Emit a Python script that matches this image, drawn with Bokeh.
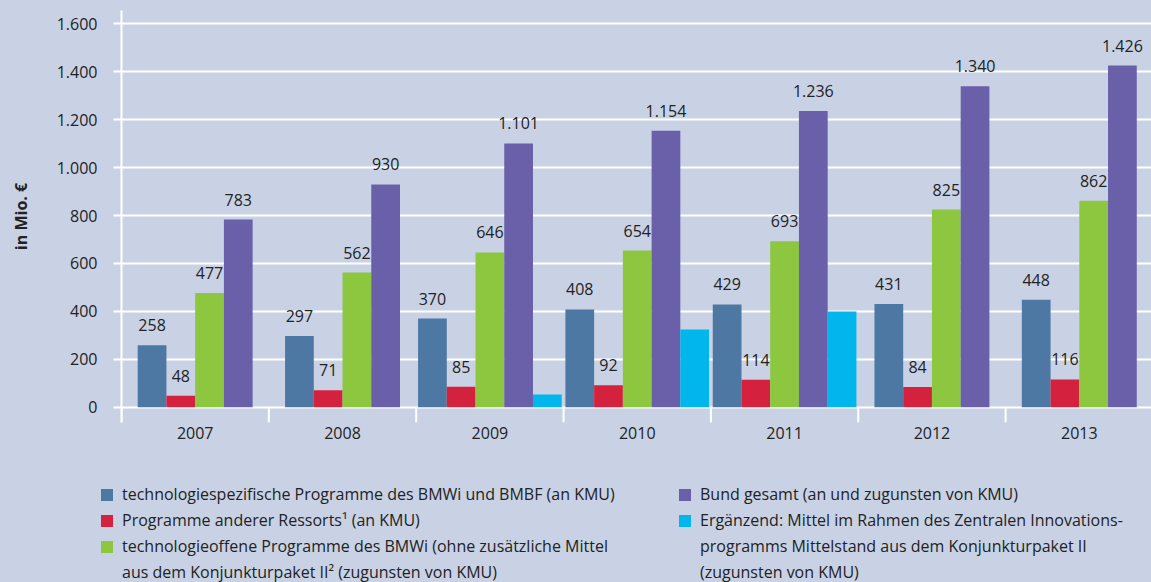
from bokeh.plotting import figure
from bokeh.layouts import column
from bokeh.models import ColumnDataSource, FixedTicker, Legend, LegendItem, Range1d
from bokeh.embed import file_html
from bokeh.resources import INLINE
from bokeh.core.properties import value

# ---------------- data ----------------
years = ["2007", "2008", "2009", "2010", "2011", "2012", "2013"]
tech_spez = [258, 297, 370, 408, 429, 431, 448]
andere_ressorts = [48, 71, 85, 92, 114, 84, 116]
tech_offen = [477, 562, 646, 654, 693, 825, 862]
bund_gesamt = [783, 930, 1101, 1154, 1236, 1340, 1426]
zim_konjunktur = [None, None, 53, 324, 399, None, None]

y_ticks = [0, 200, 400, 600, 800, 1000, 1200, 1400, 1600]
y_tick_labels = ["0", "200", "400", "600", "800", "1.000", "1.200", "1.400", "1.600"]

# legend texts, one list of (wrapped) lines per series
series_names = [
    ["technologiespezifische Programme des BMWi und BMBF (an KMU)"],
    ["Programme anderer Ressorts¹ (an KMU)"],
    ["technologieoffene Programme des BMWi (ohne zusätzliche Mittel",
     "aus dem Konjunkturpaket II² (zugunsten von KMU)"],
    ["Bund gesamt (an und zugunsten von KMU)"],
    ["Ergänzend: Mittel im Rahmen des Zentralen Innovations-",
     "programms Mittelstand aus dem Konjunkturpaket II",
     "(zugunsten von KMU)"],
]
legend_columns = [[0, 1, 2], [3, 4]]

series = [tech_spez, andere_ressorts, tech_offen, bund_gesamt, zim_konjunktur]
labelled = [True, True, True, True, False]
colors = ["#4D78A3", "#D4213D", "#8DC63F", "#6A60A9", "#00B6ED"]

BG = "#C9D2E5"
TXT = "#222222"
FONT = "Open Sans"
BAR_W = 0.195


def fmt(v):
    return f"{v:,}".replace(",", ".")


p = figure(width=1151, height=448,
           x_range=Range1d(0, 6.99), y_range=Range1d(-64, 1656),
           output_backend="svg", toolbar_location=None,
           min_border_left=121, min_border_right=0,
           min_border_top=10, min_border_bottom=26)
p.frame_align = False
p.background_fill_color = BG
p.border_fill_color = BG
p.outline_line_color = None

# bar positions (dodged within each year)
for s_idx, vals in enumerate(series):
    xs, tops, labs = [], [], []
    for i in range(len(years)):
        present = [k for k in range(len(series)) if series[k][i] is not None]
        if vals[i] is None:
            continue
        n = len(present)
        pos = present.index(s_idx)
        xs.append(i + 0.5 + (pos - (n - 1) / 2) * BAR_W)
        tops.append(vals[i])
        labs.append(fmt(vals[i]))
    src = ColumnDataSource(dict(x=xs, top=tops, lab=labs))
    p.vbar(x="x", top="top", bottom=0, width=BAR_W, source=src,
           fill_color=colors[s_idx], line_color=None)
    if labelled[s_idx]:
        p.text(x="x", y="top", text="lab", source=src, text_align="center",
               text_baseline="alphabetic", y_offset=-20,
               text_font=value(FONT), text_font_size="16px", text_color=TXT)

# category separator ticks below the zero line
bounds = list(range(len(years) + 1))
p.segment(x0=bounds, y0=[p.y_range.start] * len(bounds), x1=bounds, y1=[0] * len(bounds),
          line_color="white", line_width=2)

# axes
p.xgrid.visible = False
p.ygrid.grid_line_color = "white"
p.ygrid.grid_line_width = 2

p.yaxis.ticker = FixedTicker(ticks=y_ticks)
p.yaxis.major_label_overrides = {t: l for t, l in zip(y_ticks, y_tick_labels)}
p.yaxis.axis_line_color = "white"
p.yaxis.axis_line_width = 2
p.yaxis.major_tick_line_color = "white"
p.yaxis.major_tick_line_width = 2
p.yaxis.major_tick_out = 8
p.yaxis.major_tick_in = 0
p.yaxis.minor_tick_line_color = None
p.yaxis.major_label_standoff = 16
p.yaxis.major_label_text_font = FONT
p.yaxis.major_label_text_font_size = "16px"
p.yaxis.major_label_text_color = TXT
p.yaxis.axis_label = "in Mio. €"
p.yaxis.axis_label_text_font = FONT
p.yaxis.axis_label_text_font_size = "16px"
p.yaxis.axis_label_text_font_style = "bold"
p.yaxis.axis_label_text_color = TXT
p.yaxis.axis_label_standoff = 22

p.xaxis.ticker = FixedTicker(ticks=[i + 0.5 for i in range(len(years))])
p.xaxis.major_label_overrides = {i + 0.5: y for i, y in enumerate(years)}
p.xaxis.axis_line_color = None
p.xaxis.major_tick_line_color = None
p.xaxis.minor_tick_line_color = None
p.xaxis.major_label_standoff = -2
p.xaxis.major_label_text_font = FONT
p.xaxis.major_label_text_font_size = "16px"
p.xaxis.major_label_text_color = TXT

# ---------------- legend area ----------------
lg_fig = figure(width=1151, height=134, x_range=Range1d(0, 1), y_range=Range1d(0, 1),
                output_backend="svg", toolbar_location=None,
                x_axis_location=None, y_axis_location=None,
                min_border_left=0, min_border_right=0, min_border_top=0, min_border_bottom=0)
lg_fig.frame_align = False
lg_fig.background_fill_color = BG
lg_fig.border_fill_color = BG
lg_fig.outline_line_color = None
lg_fig.grid.visible = False

# legend swatch renderers: degenerate (zero-size) bars, they only carry the colours
swatches = [lg_fig.vbar(x=[0], top=[0], bottom=[0], width=0, fill_color=c, line_color=None)
            for c in colors]
# renderer without data: continuation lines of wrapped labels get no swatch
no_swatch = lg_fig.vbar(x=[], top=[], width=0, fill_alpha=0, line_alpha=0)


def make_legend(idx, loc):
    items = []
    for k in idx:
        for j, line in enumerate(series_names[k]):
            items.append(LegendItem(label=line, renderers=[swatches[k] if j == 0 else no_swatch]))
    lg = Legend(items=items, location=loc, orientation="vertical")
    lg.background_fill_alpha = 0
    lg.border_line_color = None
    lg.padding = 0
    lg.margin = 0
    lg.spacing = 4
    lg.glyph_width = 15
    lg.glyph_height = 15
    lg.label_height = 22
    lg.label_standoff = 8
    lg.label_text_font = FONT
    lg.label_text_font_size = "16px"
    lg.label_text_color = TXT
    return lg


lg_fig.add_layout(make_legend(legend_columns[0], (99, -1)))
lg_fig.add_layout(make_legend(legend_columns[1], (677, -1)))

layout = column(p, lg_fig, spacing=0, styles={"background-color": BG})
open("out.html", "w").write(file_html(layout, INLINE))
